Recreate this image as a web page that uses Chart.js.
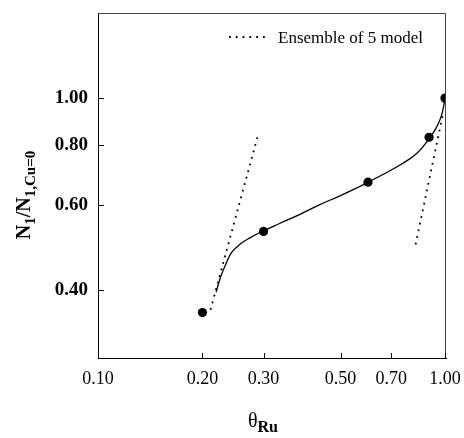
<!DOCTYPE html>
<html>
<head>
<meta charset="utf-8">
<script src="https://cdn.jsdelivr.net/npm/chart.js@4.4.0/dist/chart.umd.min.js"></script>
<style>
  body { margin: 0; background: #fff; }
  #wrap { width: 464px; height: 438px; }
</style>
</head>
<body>
<div id="wrap"><canvas id="chart" width="464" height="438"></canvas></div>
<script>
// tick labels
const xTickValues = [0.1, 0.2, 0.3, 0.5, 0.7, 1.0];
const yTickValues = [0.4, 0.6, 0.8, 1.0];

// measured points
const thetaRu = [0.2, 0.3, 0.6, 0.9, 1.0];
const ratioN1 = [0.36, 0.53, 0.67, 0.83, 1.0];

// solid curve
const fitTheta = [0.219, 0.226, 0.234, 0.243, 0.257, 0.274, 0.299, 0.335, 0.382, 0.436, 0.498, 0.569, 0.650, 0.742, 0.829, 0.901, 0.947, 0.978, 1.0];
const fitRatio = [0.397, 0.428, 0.455, 0.480, 0.499, 0.514, 0.531, 0.551, 0.575, 0.602, 0.628, 0.657, 0.690, 0.727, 0.768, 0.825, 0.872, 0.922, 0.995];

// "Ensemble of 5" model, two dotted segments
const ensLowTheta = [0.211, 0.290];
const ensLowRatio = [0.365, 0.845];
const ensHighTheta = [0.823, 0.984];
const ensHighRatio = [0.498, 0.918];

const legendLabel = "Ensemble of 5 model";

const serif = "'Liberation Serif', 'Times New Roman', serif";
const dotDash = [1.8, 5];

function toXY(xs, ys) {
  return xs.map((x, i) => ({ x: x, y: ys[i] }));
}

// no extra room for half labels, the plot box is fixed
function noPad(scale) {
  scale.paddingTop = 0;
  scale.paddingBottom = 0;
  scale.paddingLeft = 0;
  scale.paddingRight = 0;
}

// inner ticks, frame, legend and axis titles
const decorPlugin = {
  id: "decor",
  afterDraw(chart) {
    const ctx = chart.ctx;
    const area = chart.chartArea;
    const xs = chart.scales.x;
    const ys = chart.scales.y;
    ctx.save();

    // box
    ctx.strokeStyle = "#444";
    ctx.lineWidth = 1;
    ctx.beginPath();
    ctx.moveTo(area.left, area.top + 0.5);
    ctx.lineTo(area.right - 0.5, area.top + 0.5);
    ctx.lineTo(area.right - 0.5, area.bottom);
    ctx.stroke();

    // ticks pointing in
    ctx.strokeStyle = "#000";
    ctx.beginPath();
    xTickValues.forEach((v) => {
      const px = Math.round(xs.getPixelForValue(v)) + 0.5;
      ctx.moveTo(px, area.bottom);
      ctx.lineTo(px, area.bottom - 5);
    });
    yTickValues.forEach((v) => {
      const py = Math.round(ys.getPixelForValue(v)) + 0.5;
      ctx.moveTo(area.left, py);
      ctx.lineTo(area.left + 6, py);
    });
    ctx.stroke();

    // legend
    ctx.setLineDash(dotDash);
    ctx.lineWidth = 1.8;
    ctx.beginPath();
    ctx.moveTo(229, 37);
    ctx.lineTo(266, 37);
    ctx.stroke();
    ctx.setLineDash([]);
    ctx.fillStyle = "#000";
    ctx.font = "17px " + serif;
    ctx.textBaseline = "alphabetic";
    ctx.textAlign = "left";
    ctx.fillText(legendLabel, 278, 42.5);

    // x title: theta with Ru subscript
    const xMain = "20px " + serif;
    const xSub = "bold 16px " + serif;
    ctx.font = xMain;
    const wTheta = ctx.measureText("θ").width;
    ctx.font = xSub;
    const wRu = ctx.measureText("Ru").width;
    let sx = 263 - (wTheta + wRu) / 2;
    ctx.font = xMain;
    ctx.fillText("θ", sx, 427);
    ctx.font = xSub;
    ctx.fillText("Ru", sx + wTheta, 432);

    // y title, rotated
    const parts = [
      ["N", "bold 20px " + serif, 0],
      ["1", "bold 15px " + serif, 5],
      ["/N", "bold 20px " + serif, 0],
      ["1,Cu=0", "bold 15px " + serif, 5],
    ];
    let total = 0;
    parts.forEach((p) => {
      ctx.font = p[1];
      total += ctx.measureText(p[0]).width;
    });
    ctx.translate(30, 195);
    ctx.rotate(-Math.PI / 2);
    let cx = -total / 2;
    parts.forEach((p) => {
      ctx.font = p[1];
      ctx.fillText(p[0], cx, p[2]);
      cx += ctx.measureText(p[0]).width;
    });

    ctx.restore();
  },
};

new Chart(document.getElementById("chart"), {
  type: "scatter",
  data: {
    datasets: [
      {
        label: "fit",
        data: toXY(fitTheta, fitRatio),
        showLine: true,
        borderColor: "#000",
        borderWidth: 1.3,
        pointRadius: 0,
        tension: 0.4,
        fill: false,
      },
      {
        label: legendLabel,
        data: toXY(ensLowTheta, ensLowRatio),
        showLine: true,
        borderColor: "#000",
        borderWidth: 1.8,
        borderDash: dotDash,
        pointRadius: 0,
      },
      {
        label: legendLabel + " (high)",
        data: toXY(ensHighTheta, ensHighRatio),
        showLine: true,
        borderColor: "#000",
        borderWidth: 1.8,
        borderDash: dotDash,
        pointRadius: 0,
      },
      {
        label: "data",
        data: toXY(thetaRu, ratioN1),
        showLine: false,
        pointRadius: 4.6,
        pointBackgroundColor: "#000",
        pointBorderColor: "#000",
        pointBorderWidth: 0,
      },
    ],
  },
  options: {
    responsive: false,
    animation: false,
    layout: { padding: { top: 13, right: 18, left: 0, bottom: 0 } },
    plugins: {
      legend: { display: false },
      tooltip: { enabled: false },
    },
    scales: {
      x: {
        type: "logarithmic",
        min: 0.1,
        max: 1.007,
        afterBuildTicks: (scale) => {
          scale.ticks = xTickValues.map((v) => ({ value: v }));
        },
        afterFit: (scale) => {
          scale.height = 80;
          noPad(scale);
        },
        ticks: {
          autoSkip: false,
          maxRotation: 0,
          padding: 10,
          color: "#000",
          font: { family: serif, size: 18 },
          callback: (v) => Number(v).toFixed(2),
        },
        grid: { drawOnChartArea: false, drawTicks: false },
        border: { display: true, color: "#000", width: 1 },
      },
      y: {
        type: "logarithmic",
        min: 0.29,
        max: 1.5,
        afterBuildTicks: (scale) => {
          scale.ticks = yTickValues.map((v) => ({ value: v }));
        },
        afterFit: (scale) => {
          scale.width = 98;
          noPad(scale);
        },
        ticks: {
          autoSkip: false,
          padding: 10,
          color: "#000",
          font: { family: serif, size: 19, weight: "bold" },
          callback: (v) => Number(v).toFixed(2),
        },
        grid: { drawOnChartArea: false, drawTicks: false },
        border: { display: true, color: "#000", width: 1 },
      },
    },
  },
  plugins: [decorPlugin],
});
</script>
</body>
</html>
